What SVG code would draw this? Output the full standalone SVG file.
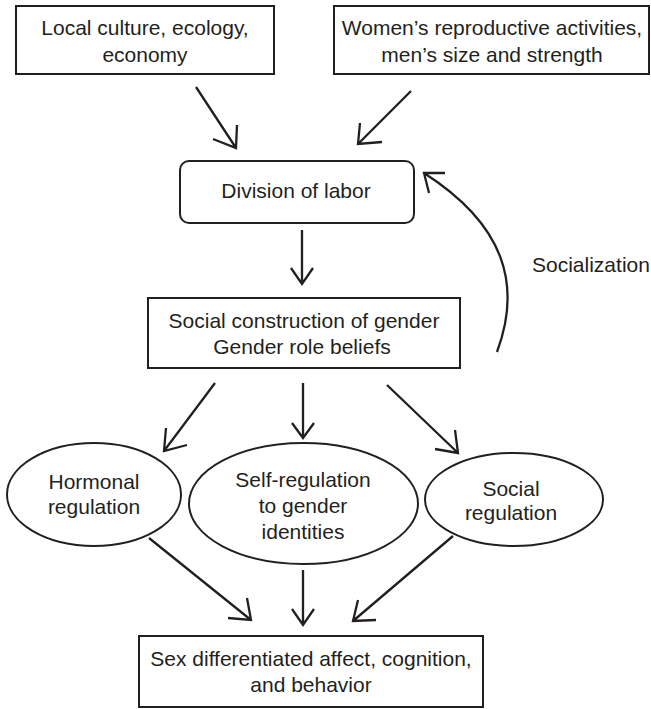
<svg xmlns="http://www.w3.org/2000/svg" width="651" height="709" viewBox="0 0 651 709">
<style>
.box{fill:#fff;stroke:#231f20;stroke-width:2}
.t{font-family:"Liberation Sans",Arial,sans-serif;font-size:21px;fill:#231f20;text-anchor:middle}
.c{fill:none;stroke:#231f20;stroke-width:2.3;stroke-linecap:butt;stroke-linejoin:miter}
</style>
<rect width="651" height="709" fill="#fff"/>
<g id="n-local">
<rect class="box" x="16" y="6" width="258" height="68"/>
<text class="t" x="145" y="35">Local culture, ecology,</text>
<text class="t" x="145" y="62">economy</text>
</g>
<g id="n-women">
<rect class="box" x="334" y="6" width="315" height="68"/>
<text class="t" x="492" y="35">Women’s reproductive activities,</text>
<text class="t" x="492" y="62">men’s size and strength</text>
</g>
<g id="n-division">
<rect class="box" x="180" y="161" width="234" height="62" rx="9"/>
<text class="t" x="296" y="198">Division of labor</text>
</g>
<g id="n-social-construction">
<rect class="box" x="148" y="298" width="312" height="70"/>
<text class="t" x="304" y="328">Social construction of gender</text>
<text class="t" x="302" y="354">Gender role beliefs</text>
</g>
<g id="n-hormonal">
<ellipse class="box" cx="94" cy="494.5" rx="87" ry="51.5"/>
<text class="t" x="94" y="489">Hormonal</text>
<text class="t" x="94" y="514">regulation</text>
</g>
<g id="n-self">
<ellipse class="box" cx="303.5" cy="503.5" rx="114.5" ry="60.5"/>
<text class="t" x="303" y="487">Self-regulation</text>
<text class="t" x="303" y="513">to gender</text>
<text class="t" x="303" y="539">identities</text>
</g>
<g id="n-social-reg">
<ellipse class="box" cx="514" cy="499.5" rx="89" ry="46.5"/>
<text class="t" x="511" y="496">Social</text>
<text class="t" x="511" y="520">regulation</text>
</g>
<g id="n-outcome">
<rect class="box" x="139" y="636" width="344" height="71"/>
<text class="t" x="311" y="666">Sex differentiated affect, cognition,</text>
<text class="t" x="311" y="692">and behavior</text>
</g>
<g id="connectors">
<path class="c" d="M196,87 L236,148 M213,139 L236,148 L237,125"/>
<path class="c" d="M411,91 L358,144 M382,142 L358,144 L360,123"/>
<path class="c" d="M302,230 L302,284 M291,268 L302,284 L313,268"/>
<path class="c" d="M215,383 L164,451 M166,428 L164,451 L187,445"/>
<path class="c" d="M303,383 L303,438 M292,423 L303,438 L314,423"/>
<path class="c" d="M387,385 L458,453 M435,449 L458,453 L455,430"/>
<path class="c" d="M149,538 L251,620 M228,618 L251,620 L247,598"/>
<path class="c" d="M303,570 L303,625 M292,609 L303,625 L314,609"/>
<path class="c" d="M453,536 L353,621 M376,620 L353,621 L358,600"/>
<path class="c" d="M497,352 C522,285 505,225 424,173 M445,173 L424,173 L429,193"/>
<text class="t" x="532" y="272" style="text-anchor:start">Socialization</text>
</g>
</svg>
